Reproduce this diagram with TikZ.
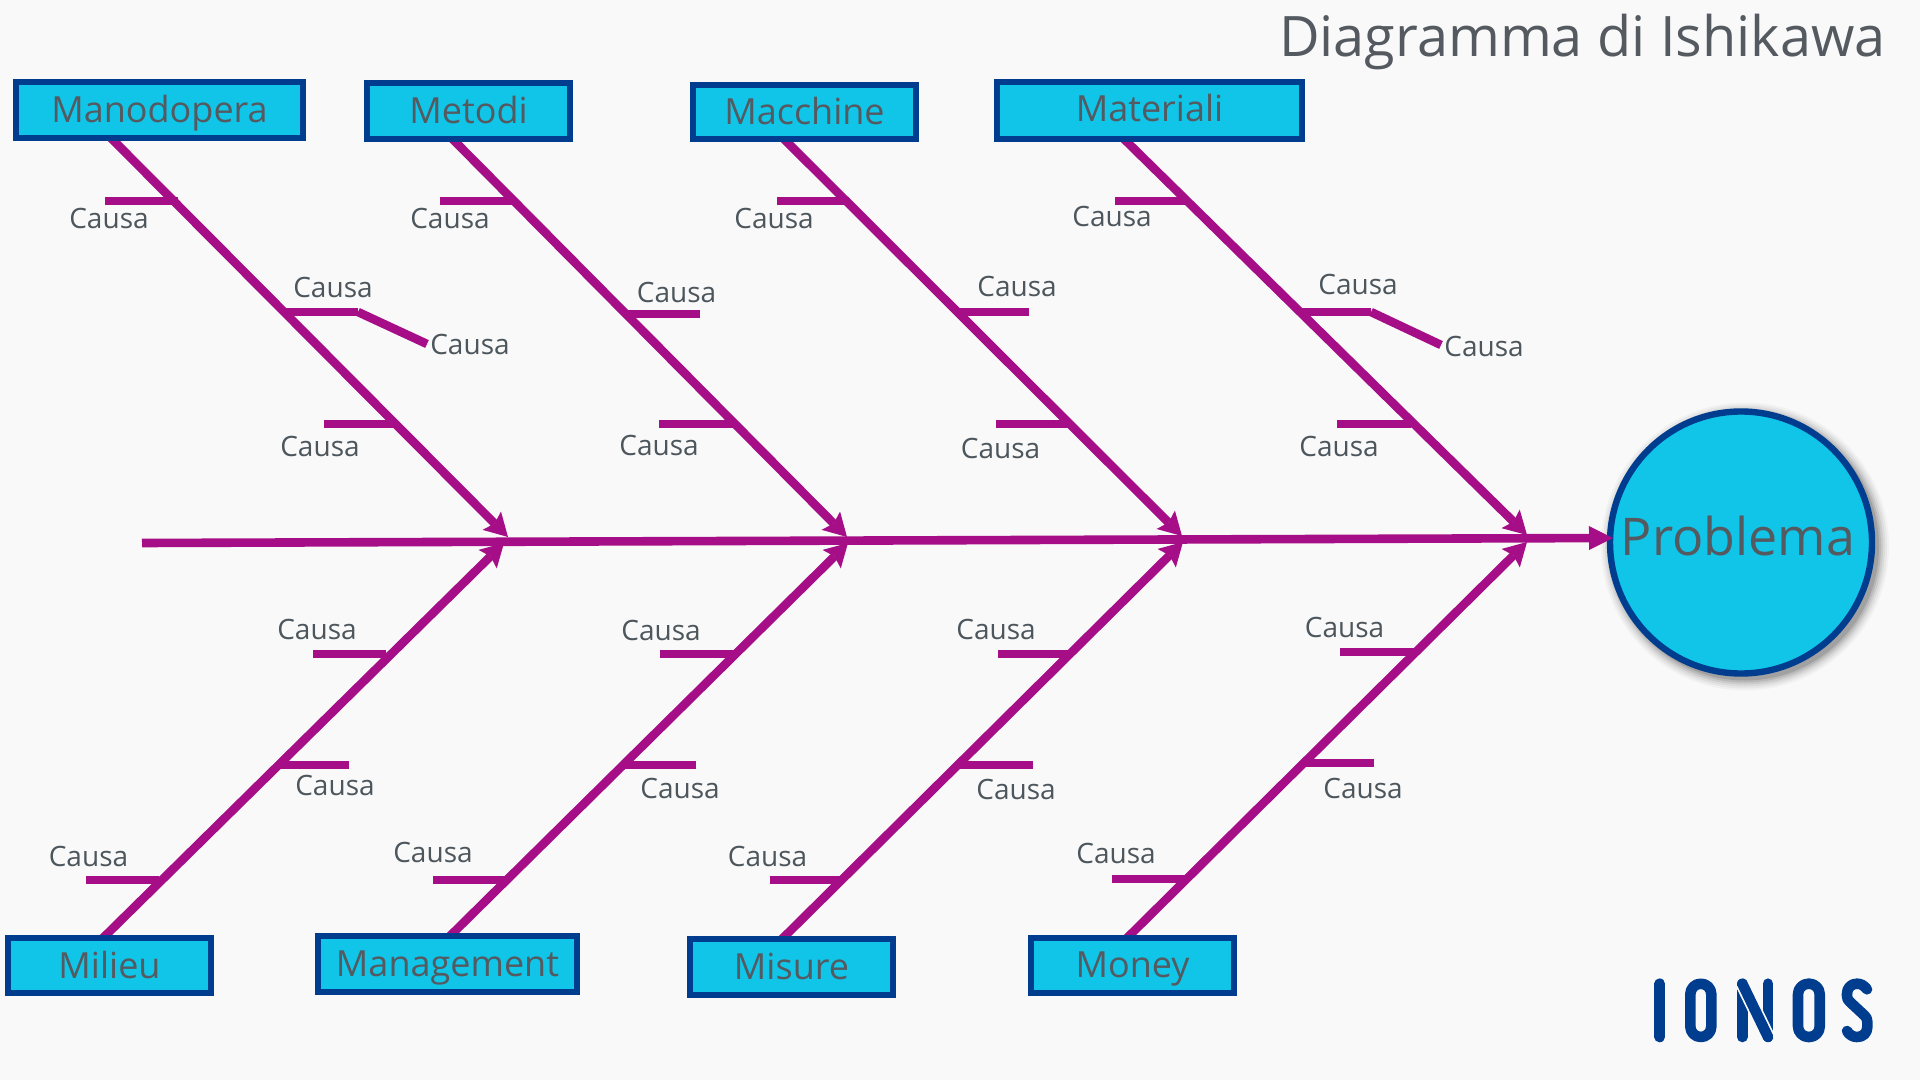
\documentclass[tikz,border=0pt]{standalone}
\usepackage{fontspec}
\setmainfont{Open Sans}
\usetikzlibrary{arrows.meta,backgrounds}
\definecolor{pagebg}{HTML}{F9F9F9}
\definecolor{cyanfill}{HTML}{11C5E8}
\definecolor{navy}{HTML}{003D8F}
\definecolor{bonecol}{HTML}{A50E87}
\definecolor{inkcol}{HTML}{545A60}
\definecolor{causecol}{HTML}{4C565C}
\tikzset{
  labelbox/.style={draw=navy,fill=cyanfill,line width=3.2pt,inner sep=0pt,outer sep=0pt,text=inkcol,font=\fontsize{18pt}{20pt}\selectfont},
  problemnode/.style={circle,draw=navy,fill=cyanfill,line width=3.2pt,inner sep=0pt,outer sep=0pt,minimum size=131pt,text=inkcol,text height=15pt,text depth=2.5pt,font=\fontsize{26pt}{28pt}\selectfont},
  causelabel/.style={anchor=base,inner sep=0pt,text=causecol,font=\fontsize{14pt}{16pt}\selectfont},
  titlelabel/.style={anchor=base east,inner sep=0pt,text=inkcol,font=\fontsize{27.9pt}{32pt}\selectfont},
  bone/.style={draw=bonecol,line width=4.3pt},
  bonearrow/.style={bone,-{Stealth[length=11.5pt,width=13pt,inset=2pt,line width=0pt]}},
  spinearrow/.style={bone,-{Triangle[length=12pt,width=12pt,line width=0pt]}},
  logostroke/.style={draw=navy,line width=5.3pt,line cap=round,line join=round},
}
\newcommand{\placebox}[7]{%
  \pgfmathsetmacro{\boxw}{(#4-#2-6)*0.5}%
  \pgfmathsetmacro{\boxh}{(#6+1-#3-3)*0.5}%
  \pgfmathsetmacro{\boxd}{(#5-3-#6-1)*0.5}%
  \node[labelbox,minimum width=\boxw pt,text height=\boxh pt,text depth=\boxd pt] (#1) at ({(#2+#4)/2},{(#3+#5)/2}) {#7};}
\newcommand{\causeline}[6]{%
  \coordinate (#1a) at (#2,#4);
  \coordinate (#1b) at (#3,#4);
  \draw[bone] (#1a) -- (#1b);
  \node[causelabel] (#1t) at (#5,#6+1) {Causa};}
\begin{document}
\begin{tikzpicture}[x=0.5pt,y=-0.5pt]
\useasboundingbox (0,0) rectangle (1920,1080);
% boxes
\placebox{manod}{13}{79}{306}{141}{122}{Manodopera}
\placebox{metod}{364}{80}{573}{142}{123}{Metodi}
\placebox{macch}{690}{82}{919}{142}{124}{Macchine}
\placebox{mater}{994}{79}{1305}{142}{121}{Materiali}
\placebox{milie}{5}{935}{214}{996}{977}{Milieu}
\placebox{manag}{315}{933}{580}{995}{975}{Management}
\placebox{misur}{687}{936}{896}{998}{978}{Misure}
\placebox{money}{1028}{935}{1237}{996}{976}{Money}
\node[problemnode] (prob) at (1741,542.5) {\hspace*{-3pt}Problema};
\node[titlelabel] (title) at (1886,57) {Diagramma di Ishikawa};
% junctions on the spine
\coordinate (s0) at (142,543);
\coordinate (ut1) at (508,537);
\coordinate (ut2) at (847,537);
\coordinate (ut3) at (1182,536);
\coordinate (ut4) at (1527,535);
\coordinate (lt1) at (504,543);
\coordinate (lt2) at (848,543);
\coordinate (lt3) at (1183,542);
\coordinate (lt4) at (1527,542);
\begin{scope}[on background layer]
  \fill[pagebg] (0,0) rectangle (1920,1080);
  \foreach \ds/\op in {10/0.03,8/0.04,6/0.05,4/0.07,2/0.09,0/0.12}{
    \fill[black,opacity=\op] ([shift={(4,4)}]prob.center) circle[radius=134+\ds];
  }
  \draw[bonearrow] ([xshift=-24.25pt]manod.south) -- (ut1);
  \draw[bonearrow] ([xshift=-8pt]metod.south) -- (ut2);
  \draw[bonearrow] ([xshift=-10.25pt]macch.south) -- (ut3);
  \draw[bonearrow] ([xshift=-12.75pt]mater.south) -- (ut4);
  \draw[bonearrow] ([xshift=-3.25pt]milie.north) -- (lt1);
  \draw[bonearrow] ([xshift=1.25pt]manag.north) -- (lt2);
  \draw[bonearrow] ([xshift=-4.75pt]misur.north) -- (lt3);
  \draw[bonearrow] ([xshift=-2.75pt]money.north) -- (lt4);
\end{scope}
% spine
\draw[spinearrow] (s0) -- ([shift={(3,-4.5)}]prob.west);
% causes, upper
\causeline{a1}{105}{178}{201}{109}{228}
\causeline{a2}{283}{358}{312}{333}{297}
\causeline{a3}{324}{394}{424}{320}{455}
\coordinate (a2end) at (427,344);
\draw[bone] (a2b) -- (a2end);
\node[causelabel] (a2x) at (470,355) {Causa};
\causeline{b1}{440}{515.5}{201}{450}{228}
\causeline{b2}{628}{700}{314}{676.5}{302}
\causeline{b3}{659}{734}{424}{659}{454}
\causeline{c1}{777}{849}{201}{774}{228}
\causeline{c2}{957}{1029}{312}{1017}{296}
\causeline{c3}{996}{1068}{424}{1000.5}{457}
\causeline{d1}{1115}{1186.5}{201}{1112}{226}
\causeline{d2}{1299}{1371}{312}{1358}{294}
\causeline{d3}{1337}{1411}{424}{1339}{455}
\coordinate (d2end) at (1441,345);
\draw[bone] (d2b) -- (d2end);
\node[causelabel] (d2x) at (1484,357) {Causa};
% causes, lower
\causeline{e1}{313}{386}{654}{317}{638}
\causeline{e2}{277.5}{348.6}{765}{335}{794}
\causeline{e3}{86}{159}{880}{88.5}{865}
\causeline{f1}{660}{734}{654}{661}{639}
\causeline{f2}{622}{695.5}{765}{680}{797}
\causeline{f3}{433}{508}{880}{433}{861}
\causeline{g1}{998}{1068.6}{654}{996}{638}
\causeline{g2}{959}{1033}{765}{1016}{798}
\causeline{g3}{770}{841}{880}{767.6}{865}
\causeline{h1}{1340}{1414}{652}{1344.5}{636}
\causeline{h2}{1304}{1374}{763}{1363}{797}
\causeline{h3}{1112}{1186}{879}{1116}{862}
% logo
\draw[logostroke] (1659.7,983.7) -- (1659.7,1037);
\draw[logostroke,rounded corners=5.25pt] (1690.3,983.7) rectangle (1711.3,1037);
\draw[logostroke] (1742.3,983.7) -- (1742.3,1037);
\draw[logostroke] (1768,983.7) -- (1768,1037);
\draw[draw=pagebg,line width=7pt] (1742.3,983.7) -- (1768,1037);
\draw[logostroke] (1742.3,983.7) -- (1768,1037);
\draw[logostroke,rounded corners=5.25pt] (1798,983.7) rectangle (1819.7,1037);
\draw[logostroke] (1867,989.3) .. controls (1864,985.5) and (1861,983.7) .. (1857,983.7) .. controls (1851,983.7) and (1847,988) .. (1847,993.7) -- (1847,996) .. controls (1847,999) and (1848,1000) .. (1850,1002) -- (1864.5,1015.5) .. controls (1866.5,1017.5) and (1867.3,1019) .. (1867.3,1022) -- (1867.3,1027) .. controls (1867.3,1033) and (1863,1037) .. (1857,1037) .. controls (1852.5,1037) and (1849,1034.5) .. (1847,1031);
\end{tikzpicture}
\end{document}
